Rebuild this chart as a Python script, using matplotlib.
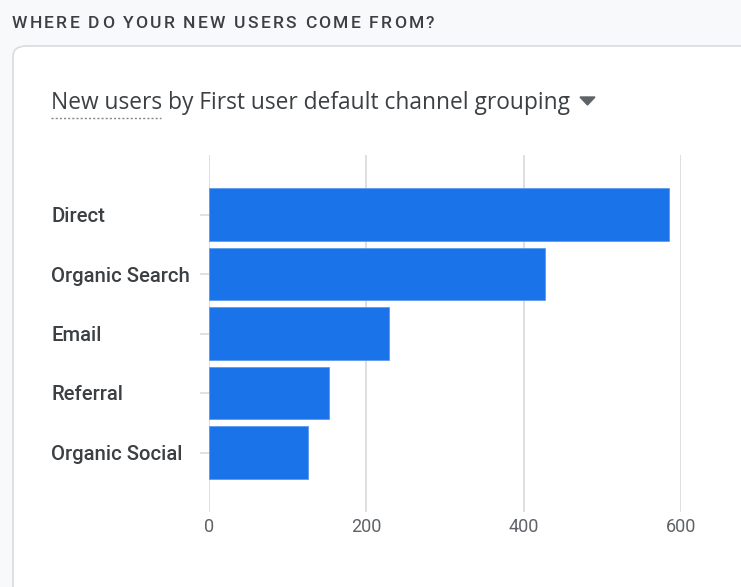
import matplotlib.pyplot as plt
from matplotlib.patches import FancyBboxPatch, Polygon
from matplotlib.lines import Line2D

channels = ["Direct", "Organic Search", "Email", "Referral", "Organic Social"]
new_users = [585, 427, 229, 152, 126]
x_ticks = [0, 200, 400, 600]

W, H = 741, 587
plt.rcParams['font.family'] = ['Roboto', 'DejaVu Sans']

fig = plt.figure(figsize=(W / 100, H / 100), dpi=100)
fig.patch.set_facecolor('#f8f9fa')


def fx(px):
    return px / W


def fy(py):
    return 1 - py / H


# card behind the chart
card = FancyBboxPatch((fx(13), fy(640)), fx(760), fy(46) - fy(640),
                      boxstyle="round,pad=0,rounding_size=0.018",
                      transform=fig.transFigure, facecolor='white',
                      edgecolor='#dadce0', linewidth=1.2, zorder=0)
fig.patches.append(card)

# header with letter spacing, drawn char by char
renderer = fig.canvas.get_renderer()
header = "WHERE DO YOUR NEW USERS COME FROM?"
x = 12
for ch in header:
    t = fig.text(fx(x), fy(23), ch, fontsize=12.6, color='#3c4043',
                 fontweight='medium', va='center', ha='left')
    w = t.get_window_extent(renderer).width if ch != ' ' else 4.5
    x += w + 2.2

fig.text(fx(51), fy(109), "New users by First user default channel grouping",
         fontsize=16.4, color='#3c4043', va='baseline', ha='left',
         family=['Open Sans', 'DejaVu Sans'])
fig.lines.append(Line2D([fx(51), fx(161)], [fy(118), fy(118)],
                        transform=fig.transFigure, color='#80868b',
                        linewidth=1, dashes=(1.5, 1.5)))
fig.patches.append(Polygon([[fx(580), fy(97)], [fx(595), fy(97)],
                            [fx(587.5), fy(105)]], closed=True,
                           transform=fig.transFigure, color='#5f6368'))

ax = fig.add_axes([fx(209), fy(512), fx(681) - fx(209), fy(155) - fy(512)])
ax.set_zorder(2)
ax.set_facecolor('none')
ypos = list(range(len(channels)))
ax.barh(ypos, new_users, height=0.885, color='#1a73e8',
        edgecolor='#5b9af0', linewidth=0.6, zorder=3)
ax.set_xlim(0, 600)
ax.set_ylim(5.0, -1.0)
ax.set_xticks(x_ticks)
ax.set_xticklabels([str(t) for t in x_ticks])
ax.grid(axis='x', color='#dadce0', linewidth=1.3, zorder=0)
for s in ax.spines.values():
    s.set_visible(False)

ax.set_yticks(ypos)
ax.set_yticklabels(channels)
ax.tick_params(axis='y', length=6.5, width=1.2, color='#dadce0',
               pad=(209 - 51) * 0.72 - 6.5, labelsize=14.6,
               labelcolor='#3c4043')
for lab in ax.get_yticklabels():
    lab.set_horizontalalignment('left')
    lab.set_fontweight('medium')
ax.tick_params(axis='x', length=0, pad=4, labelsize=13, labelcolor='#5f6368')

fig.savefig('out.png', dpi=100, facecolor=fig.get_facecolor())
